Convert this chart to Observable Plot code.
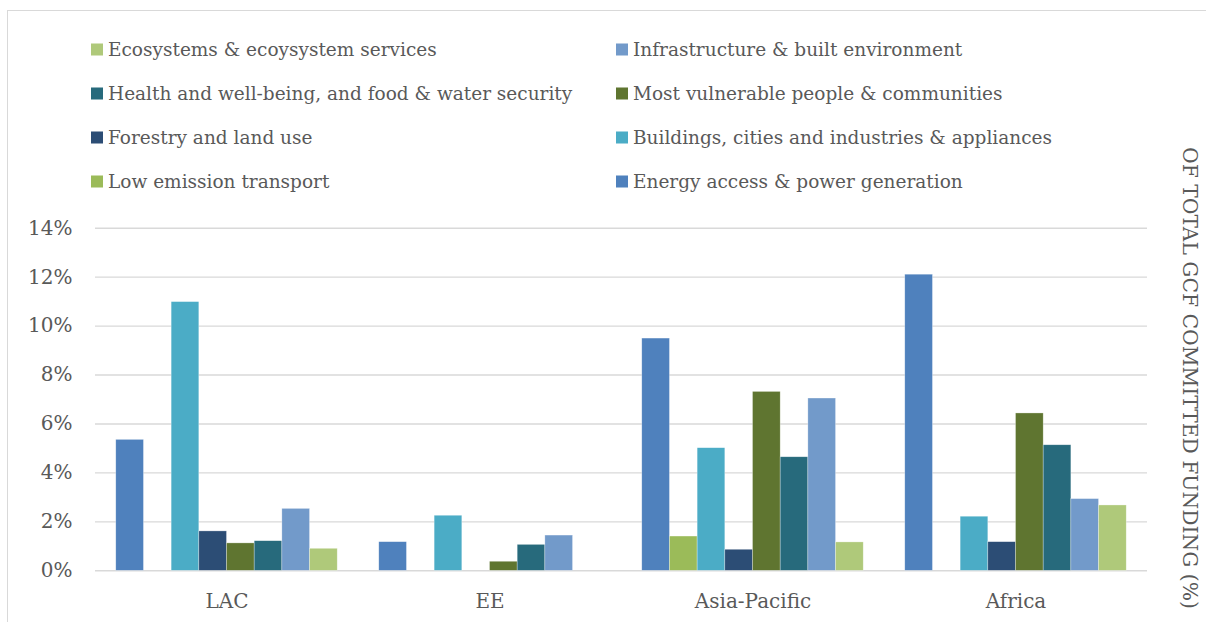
<!DOCTYPE html>
<html><head><meta charset="utf-8">
<script src="https://cdn.jsdelivr.net/npm/d3@7"></script>
<script src="https://cdn.jsdelivr.net/npm/@observablehq/plot@0.6"></script>
<style>
body{margin:0;background:#fff;}
#wrap{position:relative;width:1206px;height:622px;overflow:hidden;font-family:"DejaVu Serif",serif;color:#595959;}
#frame{position:absolute;left:7px;top:10px;width:1220px;height:640px;border-left:1.5px solid #d9d9d9;border-top:1.5px solid #d9d9d9;}
#legend{position:relative;height:200px;}
.item{position:absolute;display:flex;align-items:center;font-size:18.5px;white-space:nowrap;transform:translateY(-50%);}
.sw{width:12px;height:12px;margin-right:5px;flex:none;}
#ylab{position:absolute;left:1190px;top:378px;transform:translate(-50%,-50%) rotate(90deg);font-size:20.3px;white-space:nowrap;}
#chart{position:relative;width:1206px;height:422px;}
#chart svg{display:block;position:absolute;left:0;top:0;}
</style></head>
<body><div id="wrap"><div id="frame"></div><div id="legend"></div><div id="chart"></div><div id="ylab"></div></div>
<script>
const regions = ["LAC", "EE", "Asia-Pacific", "Africa"];
const series = [
  "Energy access & power generation",
  "Low emission transport",
  "Buildings, cities and industries & appliances",
  "Forestry and land use",
  "Most vulnerable people & communities",
  "Health and well-being, and food & water security",
  "Infrastructure & built environment",
  "Ecosystems & ecoysystem services"
];
const colors = ["#4f81bd", "#9bbb59", "#4bacc6", "#2c4d75", "#5f7530", "#276a7c", "#729aca", "#afc97a"];
// % of total GCF committed funding, in series order
const lac         = [5.35, 0,    10.98, 1.61, 1.12, 1.21, 2.53, 0.90];
const ee          = [1.17, 0,    2.25,  0,    0.37, 1.06, 1.44, 0];
const asiaPacific = [9.49, 1.40, 5.01,  0.86, 7.31, 4.64, 7.04, 1.16];
const africa      = [12.10, 0,   2.21,  1.17, 6.43, 5.13, 2.93, 2.67];
const yTicks = [0, 2, 4, 6, 8, 10, 12, 14];
const yTitle = "OF TOTAL GCF COMMITTED FUNDING (%)";

const valuesByRegion = [lac, ee, asiaPacific, africa];
const table = regions.flatMap((r, i) => series.map((s, j) => ({region: r, series: s, value: valuesByRegion[i][j]})));

// legend (reverse series order, two columns, row-major)
const legend = document.getElementById("legend");
const legendOrder = series.slice().reverse();
const colLeft = [91, 616];
legendOrder.forEach((s, k) => {
  const row = Math.floor(k / 2), col = k % 2;
  const it = document.createElement("div");
  it.className = "item";
  it.style.left = colLeft[col] + "px";
  it.style.top = (49 + 44 * row) + "px";
  const sw = document.createElement("span");
  sw.className = "sw";
  sw.style.background = colors[series.indexOf(s)];
  const tx = document.createElement("span");
  tx.textContent = s;
  it.append(sw, tx);
  legend.append(it);
});
document.getElementById("ylab").textContent = yTitle;

const common = {
  width: 1206,
  height: 422,
  marginTop: 27.7,
  marginBottom: 51.7,
  marginLeft: 95,
  marginRight: 59,
  style: {fontFamily: "DejaVu Serif", fontSize: "20px", color: "#595959", background: "transparent"}
};
const bandPad = {paddingInner: 0.158, paddingOuter: 0.079, round: false};

// background: gridlines + axes across the full frame
const back = Plot.plot({
  ...common,
  x: {domain: regions, ...bandPad, tickSize: 0, tickPadding: 23, label: null},
  y: {domain: [0, 14], ticks: yTicks, tickFormat: d => d + "%", tickSize: 0, tickPadding: 23, label: null},
  marks: [
    Plot.ruleY(yTicks, {stroke: "#d9d9d9", strokeWidth: 1.4})
  ]
});

// foreground: grouped bars, faceted by region
const front = Plot.plot({
  ...common,
  fx: {domain: regions, ...bandPad, axis: null},
  x: {domain: series, padding: 0, round: false, axis: null},
  y: {domain: [0, 14], axis: null},
  color: {domain: series, range: colors},
  marks: [
    Plot.barY(table.filter(d => d.value > 0), {fx: "region", x: "series", y: "value", fill: "series", stroke: "#fff", strokeWidth: 0.6, strokeOpacity: 0.5})
  ]
});
document.getElementById("chart").append(back, front);
</script></body></html>
